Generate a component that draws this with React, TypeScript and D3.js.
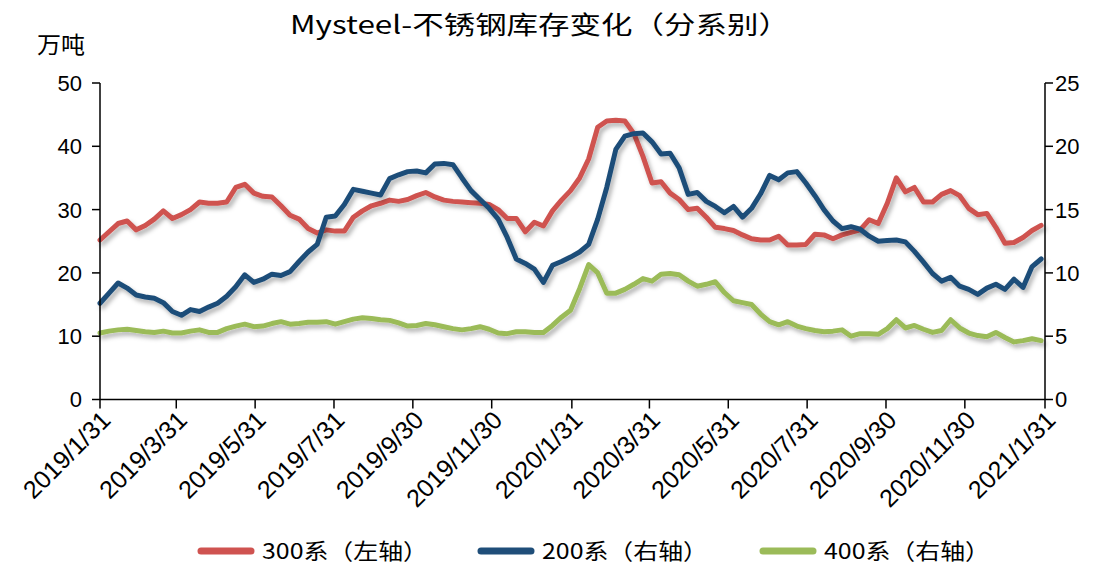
import React from "react";
import * as d3 from "d3";

const title = "Mysteel-不锈钢库存变化（分系别）";
const unitLabel = "万吨";
const seriesNames = ["300系（左轴）", "200系（右轴）", "400系（右轴）"];
const firstWeek = "2019-01-31";
const weekCount = 105;
const tickLabels = ["2019/1/31", "2019/3/31", "2019/5/31", "2019/7/31", "2019/9/30", "2019/11/30", "2020/1/31", "2020/3/31", "2020/5/31", "2020/7/31", "2020/9/30", "2020/11/30", "2021/1/31"];
const leftTicks = [0, 10, 20, 30, 40, 50];
const rightTicks = [0, 5, 10, 15, 20, 25];

// 300系 (left axis, 万吨)
const s300 = [25.2, 26.5, 27.8, 28.2, 26.8, 27.5, 28.5, 29.8, 28.6, 29.2, 30.0, 31.2, 31.0, 31.0, 31.2, 33.5, 34.0, 32.6, 32.1, 32.0,
  30.6, 29.1, 28.5, 27.0, 26.3, 26.8, 26.6, 26.6, 28.8, 29.8, 30.6, 31.0, 31.5, 31.3, 31.6, 32.2, 32.7, 32.0, 31.5, 31.3,
  31.2, 31.1, 31.0, 30.8, 30.0, 28.6, 28.6, 26.5, 28.0, 27.4, 29.8, 31.5, 33.0, 35.0, 38.0, 43.0, 44.0, 44.1, 44.0, 42.0,
  38.4, 34.2, 34.4, 32.6, 31.6, 30.0, 30.2, 28.8, 27.2, 27.0, 26.7, 26.0, 25.4, 25.2, 25.2, 25.8, 24.4, 24.4, 24.5, 26.1,
  26.0, 25.4, 26.0, 26.4, 26.8, 28.4, 27.8, 31.0, 35.0, 32.8, 33.5, 31.2, 31.2, 32.4, 33.0, 32.2, 30.2, 29.2, 29.4, 27.2,
  24.7, 24.8, 25.6, 26.7, 27.5];

// 200系 (right axis)
const s200 = [7.6, 8.4, 9.2, 8.8, 8.25, 8.1, 8.0, 7.65, 6.95, 6.65, 7.1, 6.95, 7.3, 7.6, 8.15, 8.9, 9.85, 9.25, 9.5, 9.9,
  9.8, 10.1, 10.9, 11.65, 12.25, 14.4, 14.5, 15.4, 16.6, 16.45, 16.3, 16.15, 17.45, 17.75, 18.0, 18.05, 17.9, 18.6, 18.65, 18.55,
  17.5, 16.5, 15.8, 15.1, 14.25, 12.8, 11.1, 10.75, 10.3, 9.25, 10.6, 10.9, 11.25, 11.65, 12.25, 14.25, 16.75, 19.75, 20.8, 21.0,
  21.05, 20.35, 19.4, 19.45, 18.3, 16.2, 16.35, 15.65, 15.25, 14.75, 15.25, 14.4, 15.1, 16.25, 17.7, 17.35, 17.9, 18.0, 17.1, 16.1,
  15.0, 14.1, 13.5, 13.65, 13.45, 12.9, 12.5, 12.55, 12.6, 12.45, 11.7, 10.85, 9.95, 9.35, 9.65, 8.95, 8.7, 8.3, 8.8, 9.1,
  8.7, 9.5, 8.85, 10.5, 11.1];

// 400系 (right axis)
const s400 = [5.25, 5.4, 5.5, 5.55, 5.45, 5.35, 5.3, 5.4, 5.25, 5.25, 5.4, 5.5, 5.3, 5.3, 5.6, 5.8, 5.95, 5.75, 5.8, 6.0,
  6.15, 5.95, 6.0, 6.1, 6.1, 6.15, 5.95, 6.15, 6.35, 6.45, 6.4, 6.3, 6.25, 6.05, 5.8, 5.85, 6.0, 5.9, 5.75, 5.6,
  5.5, 5.6, 5.75, 5.55, 5.25, 5.2, 5.35, 5.35, 5.3, 5.3, 5.85, 6.5, 7.05, 8.75, 10.65, 10.0, 8.4, 8.4, 8.7, 9.1,
  9.55, 9.35, 9.9, 9.95, 9.85, 9.35, 8.95, 9.1, 9.3, 8.45, 7.8, 7.65, 7.5, 6.75, 6.15, 5.9, 6.15, 5.8, 5.6, 5.45,
  5.35, 5.4, 5.5, 5.0, 5.2, 5.2, 5.15, 5.6, 6.3, 5.65, 5.85, 5.55, 5.3, 5.45, 6.3, 5.65, 5.25, 5.05, 4.95, 5.3,
  4.9, 4.55, 4.65, 4.8, 4.65];

const colors = ["#CF5350", "#1F4E79", "#9BBB59"];

const parse = d3.timeParse("%Y/%m/%d");
const parseIso = d3.timeParse("%Y-%m-%d");

export default function App() {
  const W = 1095, H = 564;
  const left = 100, right = 1045, top = 83, bottom = 399.5;
  const tickDates = tickLabels.map((t) => parse(t) as Date);
  const start = parseIso(firstWeek) as Date;
  const dates = d3.range(weekCount).map((i) => d3.timeDay.offset(start, 7 * i));

  const x = d3.scaleTime().domain([tickDates[0], tickDates[tickDates.length - 1]]).range([left, right]);
  const yL = d3.scaleLinear().domain([0, 50]).range([bottom, top]);
  const yR = d3.scaleLinear().domain([0, 25]).range([bottom, top]);

  const lineL = d3.line<number>().x((_, i) => x(dates[i])).y((d) => yL(d));
  const lineR = d3.line<number>().x((_, i) => x(dates[i])).y((d) => yR(d));

  const series = [
    { data: s300, gen: lineL, color: colors[0] },
    { data: s200, gen: lineR, color: colors[1] },
    { data: s400, gen: lineR, color: colors[2] },
  ];

  const axisFont = "'Liberation Sans', Arial, sans-serif";
  const cjkFont = "'Noto Sans CJK SC', sans-serif";

  const legendX = [198, 478, 760];

  return (
    <svg width={W} height={H} style={{ position: "absolute", left: 0, top: 0, background: "#fff" }}>
      <defs>
        <filter id="shadow" x="-5%" y="-5%" width="110%" height="120%">
          <feDropShadow dx="2.5" dy="3.5" stdDeviation="2" floodColor="#000" floodOpacity="0.3" />
        </filter>
      </defs>
      <rect width={W} height={H} fill="#fff" />
      <text x={540} y={34} textAnchor="middle" fontFamily={cjkFont} fontSize={25} fill="#000" textLength={500} lengthAdjust="spacingAndGlyphs">{title}</text>
      <text x={37} y={53} fontFamily={cjkFont} fontSize={23} fill="#000" textLength={48} lengthAdjust="spacingAndGlyphs">{unitLabel}</text>

      {series.map((s, k) => (
        <path key={k} d={s.gen(s.data) || ""} fill="none" stroke={s.color} strokeWidth={5} strokeLinejoin="round" strokeLinecap="round" filter="url(#shadow)" />
      ))}

      {/* axes */}
      <g stroke="#000" strokeWidth={1.5}>
        <line x1={left} x2={left} y1={top} y2={bottom} />
        <line x1={right} x2={right} y1={top} y2={bottom} />
        <line x1={left} x2={right} y1={bottom} y2={bottom} />
        {leftTicks.map((t) => (
          <line key={"lt" + t} x1={left - 8} x2={left} y1={yL(t)} y2={yL(t)} />
        ))}
        {rightTicks.map((t) => (
          <line key={"rt" + t} x1={right} x2={right + 8} y1={yR(t)} y2={yR(t)} />
        ))}
        {tickDates.map((d, i) => (
          <line key={"xt" + i} x1={x(d)} x2={x(d)} y1={bottom} y2={bottom + 9} />
        ))}
      </g>
      {leftTicks.map((t) => (
        <text key={"ll" + t} x={left - 18} y={yL(t)} dy="0.36em" textAnchor="end" fontFamily={axisFont} fontSize={22} fill="#000">{t}</text>
      ))}
      {rightTicks.map((t) => (
        <text key={"rl" + t} x={right + 10} y={yR(t)} dy="0.36em" textAnchor="start" fontFamily={axisFont} fontSize={22} fill="#000">{t}</text>
      ))}
      {tickDates.map((d, i) => (
        <text key={"xl" + i} transform={`translate(${x(d) + 6},${bottom + 16}) rotate(-45)`} textAnchor="end" dy="0.35em" fontFamily={axisFont} fontSize={25} fill="#000">{tickLabels[i]}</text>
      ))}

      {seriesNames.map((n, i) => (
        <g key={"lg" + i}>
          <line x1={legendX[i] + 3} x2={legendX[i] + 53} y1={551} y2={551} stroke={colors[i]} strokeWidth={7} strokeLinecap="round" />
          <text x={legendX[i] + 64} y={551} dy="0.36em" fontFamily={cjkFont} fontSize={22} fill="#000" textLength={166} lengthAdjust="spacingAndGlyphs">{n}</text>
        </g>
      ))}
    </svg>
  );
}
